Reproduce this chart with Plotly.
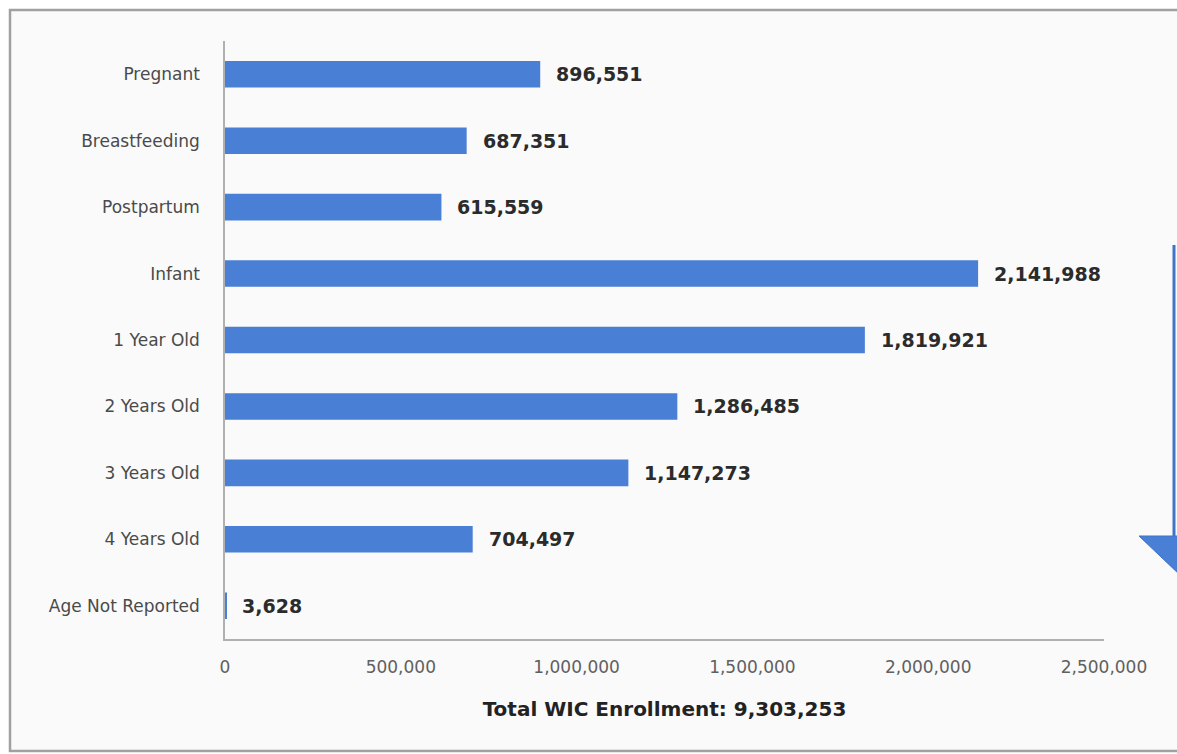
import plotly.graph_objects as go

categories = ["Pregnant", "Breastfeeding", "Postpartum", "Infant", "1 Year Old",
              "2 Years Old", "3 Years Old", "4 Years Old", "Age Not Reported"]
values = [896551, 687351, 615559, 2141988, 1819921, 1286485, 1147273, 704497, 3628]
x_ticks = [0, 500000, 1000000, 1500000, 2000000, 2500000]
x_title = "Total WIC Enrollment: 9,303,253"

bar_color = "#4a7fd6"

L, R, T, B = 225, 1104, 41, 639
PW, PH = R - L, B - T


def px(x):
    return (x - L) / PW


def py(y):
    return (B - y) / PH


fig = go.Figure(go.Bar(
    x=values,
    y=categories,
    orientation="h",
    marker=dict(color=bar_color, line=dict(width=0)),
    width=0.4,
    cliponaxis=False,
))

for v, c in zip(values, categories):
    fig.add_annotation(
        x=v, y=c, xref="x", yref="y", text=f"{v:,}", showarrow=False,
        xanchor="left", yanchor="middle", xshift=14,
        font=dict(family="DejaVu Sans", size=19, color="#2b2b2b", weight="bold"),
    )

fig.update_layout(
    width=1177, height=754,
    margin=dict(l=L, r=1177 - R, t=T, b=754 - B),
    paper_bgcolor="white",
    plot_bgcolor="rgba(0,0,0,0)",
    showlegend=False,
    xaxis=dict(
        range=[0, 2500000],
        tickvals=x_ticks,
        ticktext=[f"{t:,}" for t in x_ticks],
        tickfont=dict(family="DejaVu Sans", size=17, color="#606060"),
        showgrid=False, zeroline=False,
        showline=True, linecolor="#b0b0b0", linewidth=1.5,
        ticks="", ticklabelstandoff=12,
        title=dict(text="<b>" + x_title + "</b>",
                   font=dict(family="DejaVu Sans", size=20, color="#222222"),
                   standoff=26),
    ),
    yaxis=dict(
        categoryorder="array",
        categoryarray=categories[::-1],
        tickfont=dict(family="DejaVu Sans", size=17, color="#4a4a4a"),
        showgrid=False, zeroline=False,
        showline=True, linecolor="#b0b0b0", linewidth=1.5,
        ticks="", ticklabelstandoff=20,
    ),
    shapes=[
        dict(type="rect", xref="paper", yref="paper", layer="below",
             x0=px(10), x1=px(1200), y0=py(751), y1=py(10),
             fillcolor="#fafafa", line=dict(color="#a0a0a0", width=2.5)),
        dict(type="line", xref="paper", yref="paper",
             x0=px(1174), x1=px(1174), y0=py(537), y1=py(245),
             line=dict(color="#3f74c8", width=3)),
        dict(type="path", xref="paper", yref="paper",
             path=f"M {px(1139)},{py(536)} L {px(1180)},{py(536)} "
                  f"L {px(1180)},{py(575)} Z",
             fillcolor="#4a7fd6", line=dict(color="#3f74c8", width=1)),
    ],
)

fig.write_html("out.html")
